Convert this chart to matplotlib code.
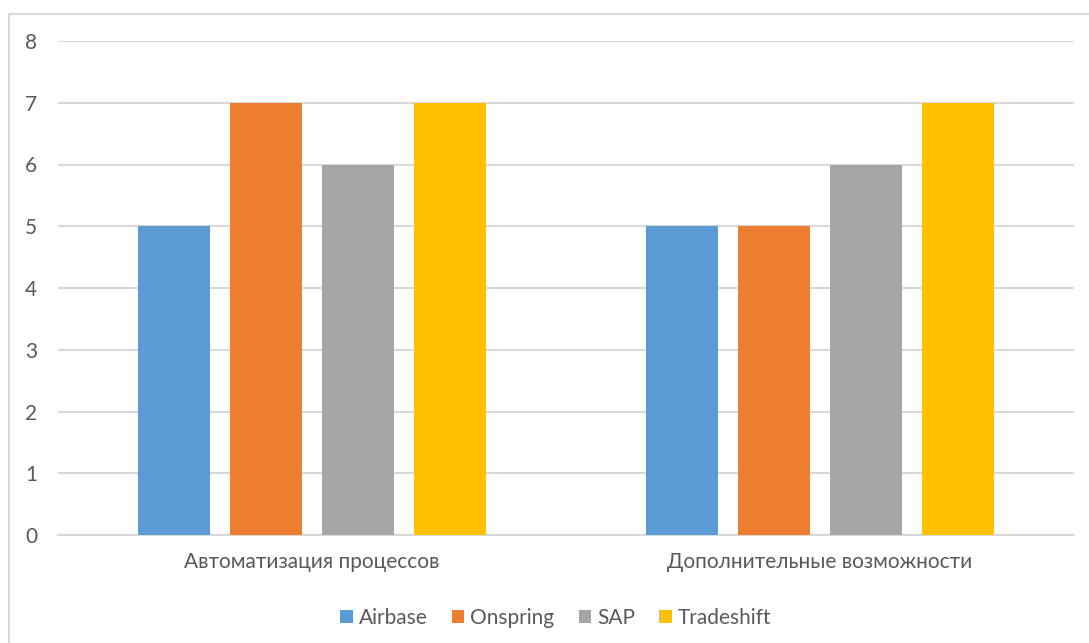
import matplotlib.pyplot as plt
import matplotlib.patches as mpatches
import numpy as np

plt.rcParams['font.family'] = ['Lato', 'DejaVu Sans']

categories = ["Автоматизация процессов", "Дополнительные возможности"]
series_names = ["Airbase", "Onspring", "SAP", "Tradeshift"]
airbase = [5, 5]
onspring = [7, 5]
sap = [6, 6]
tradeshift = [7, 7]
yticks = [0, 1, 2, 3, 4, 5, 6, 7, 8]

values = [airbase, onspring, sap, tradeshift]
colors = ["#5B9BD5", "#ED7D31", "#A5A5A5", "#FFC000"]
text_color = "#595959"
grid_color = "#D9D9D9"

fig = plt.figure(figsize=(10.89, 6.43), dpi=100)

# outer chart border (cropped on right/bottom like the screenshot)
border = mpatches.Rectangle((9 / 1089, -0.05), 1.1, 1 - 14 / 643 + 0.05,
                            transform=fig.transFigure, fill=False,
                            edgecolor=grid_color, linewidth=1.5)
fig.patches.append(border)

ax = fig.add_axes([58 / 1089, 1 - 535 / 643, 1016 / 1089, 494 / 643])

x = np.arange(len(categories))
bar_w = 72 / 508
step = 92 / 508
offsets = (np.arange(len(series_names)) - 1.5) * step

for i, name in enumerate(series_names):
    ax.bar(x + offsets[i], values[i], width=bar_w, color=colors[i],
           label=name, zorder=3)

ax.set_xlim(-0.5, 1.5)
ax.set_ylim(0, 8)
ax.set_yticks(yticks)
ax.set_xticks(x)
ax.set_xticklabels(categories)
ax.yaxis.grid(True, color=grid_color, linewidth=1.5, zorder=0)
ax.set_axisbelow(True)
for side in ["top", "right", "left"]:
    ax.spines[side].set_visible(False)
ax.spines["bottom"].set_color(grid_color)
ax.spines["bottom"].set_linewidth(1.5)
ax.tick_params(axis="both", length=0, labelsize=15, labelcolor=text_color)
ax.tick_params(axis="y", pad=15)
ax.tick_params(axis="x", pad=12)

ax.legend(loc="upper center", bbox_to_anchor=(0.49, -0.11), ncol=4,
          frameon=False, fontsize=15, labelcolor=text_color,
          handlelength=0.6, handleheight=0.6, handletextpad=0.3,
          columnspacing=1.15)

fig.savefig("out.png", dpi=100)
